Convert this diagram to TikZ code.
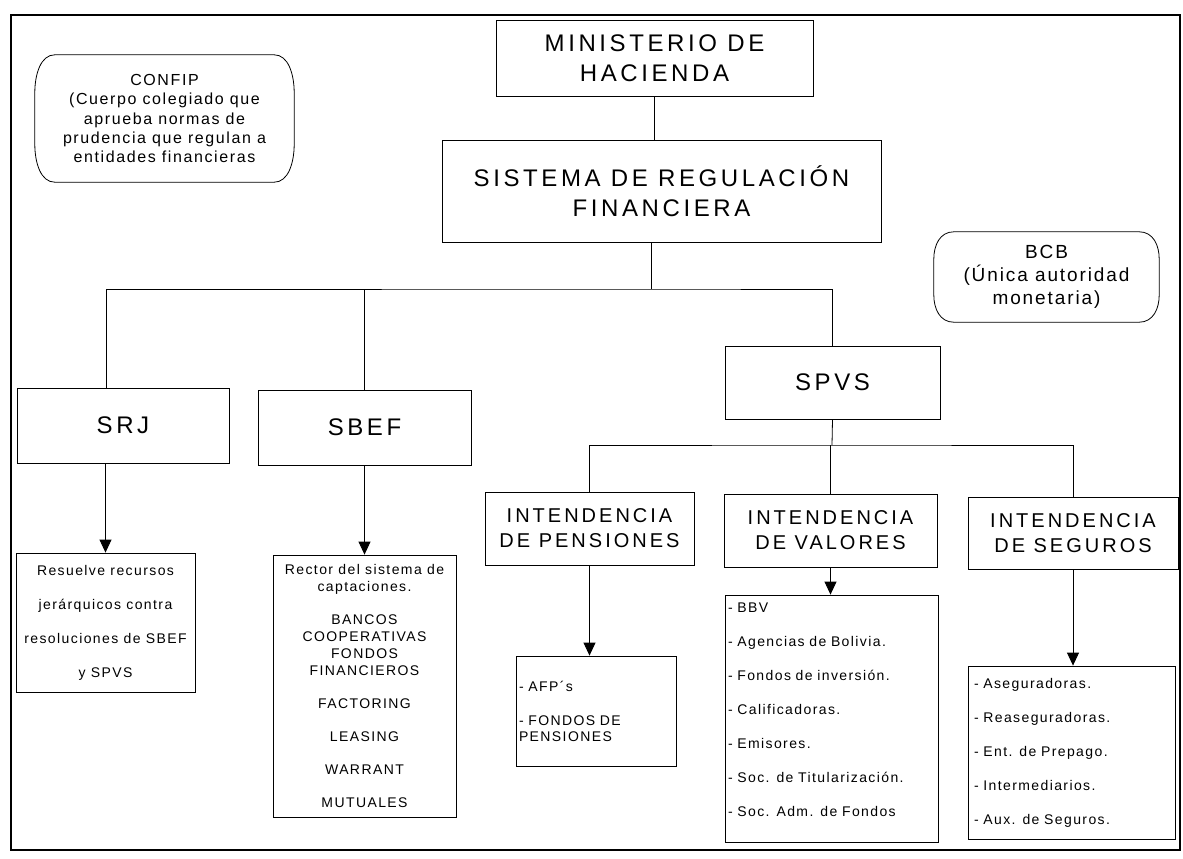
\documentclass[tikz,border=0pt]{standalone}
\usepackage{fontspec}
\setmainfont{Liberation Sans}[LetterSpace=10]
\newfontfamily\widefont{Liberation Sans}[LetterSpace=15]
\usetikzlibrary{arrows.meta,calc}

\begin{document}
\begin{tikzpicture}[x=1pt,y=-1pt,
  box/.style={draw,line width=0.8pt,inner sep=0pt,align=center},
  head/.style={box,font=\widefont\fontsize{24}{30}\selectfont},
  inten/.style={box,font=\widefont\fontsize{20}{25}\selectfont},
  small/.style={box,font=\fontsize{14}{34}\selectfont},
  list/.style={box,align=left,inner xsep=3pt,font=\fontsize{14}{16}\selectfont},
  note/.style={align=center,inner sep=0pt,font=\fontsize{16}{19.3}\selectfont},
  conn/.style={line width=0.8pt},
  arr/.style={conn,-{Triangle[width=12pt,length=13pt]}}]
  \useasboundingbox (0,0) rectangle (1183,859);
  \draw[line width=2pt] (11,15) rectangle (1180,850);

  % top of the tree
  \node[head, minimum width=317pt, minimum height=76pt] (minis) at (654.5,58) {MINISTERIO DE\\HACIENDA};
  \node[head, minimum width=439pt, minimum height=102pt] (sistema) at (661.5,191) {SISTEMA DE REGULACIÓN\\FINANCIERA};
  \node[note, minimum width=259pt, minimum height=127pt] (confip) at (164.5,118.5)
    {CONFIP\\(Cuerpo colegiado que\\aprueba normas de\\prudencia que regulan a\\entidades financieras};
  \node[note, font=\fontsize{19}{23}\selectfont, minimum width=225pt, minimum height=90pt] (bcb) at (1046.5,277)
    {BCB\\(Única autoridad\\monetaria)};

  % superintendencias
  \node[head, minimum width=212pt, minimum height=75pt] (srj) at (123,425.5) {SRJ};
  \node[head, minimum width=213pt, minimum height=75pt] (sbef) at (364.5,427.5) {SBEF};
  \node[head, minimum width=215pt, minimum height=73pt] (spvs) at (832.5,382.5) {SPVS};
  \node[inten, minimum width=209pt, minimum height=73pt] (pens) at (589.5,528.5) {INTENDENCIA\\DE PENSIONES};
  \node[inten, minimum width=213pt, minimum height=73pt] (val) at (830.5,530.5) {INTENDENCIA\\DE VALORES};
  \node[inten, minimum width=210pt, minimum height=72pt] (seg) at (1073,533) {INTENDENCIA\\DE SEGUROS};

  % entidades
  \node[small, minimum width=179pt, minimum height=139pt] (res) at (105.5,622.5)
    {Resuelve recursos\\jerárquicos contra\\resoluciones de SBEF\\y SPVS};
  \node[box, font=\fontsize{14}{17}\selectfont, minimum width=183pt, minimum height=262pt] (rector) at (364.5,686)
    {Rector del sistema de\\captaciones.\\[16pt]BANCOS\\COOPERATIVAS\\FONDOS\\FINANCIEROS\\[16pt]FACTORING\\[16pt]LEASING\\[16pt]WARRANT\\[16pt]MUTUALES};
  \node[list, text width=154pt, minimum height=110pt] (afp) at (596,711) {- AFP´s\\[18pt]- FONDOS DE\\PENSIONES};
  \node[box, minimum width=213pt, minimum height=247pt] (bbv) at (831.5,718.5) {};
  \node[list, draw=none, anchor=north west, text width=200pt] (bbvlist) at ([yshift=-8pt]bbv.north west)
    {- BBV\\[18pt]- Agencias de Bolivia.\\[18pt]- Fondos de inversión.\\[18pt]- Calificadoras.\\[18pt]- Emisores.\\[18pt]- Soc. de Titularización.\\[18pt]- Soc. Adm. de Fondos};
  \node[list, inner xsep=6pt, text width=195pt, minimum height=173pt] (aseg) at (1071.5,752.5)
    {- Aseguradoras.\\[18pt]- Reaseguradoras.\\[18pt]- Ent. de Prepago.\\[18pt]- Intermediarios.\\[18pt]- Aux. de Seguros.};

  % rounded outlines
  \foreach \nd in {confip,bcb}
    \draw[conn] ([xshift=20pt]\nd.north west) -- ([xshift=-20pt]\nd.north east)
      .. controls ([xshift=-6pt]\nd.north east) and ($(\nd.north east)!0.15!(\nd.south east)$) .. ($(\nd.north east)!0.3!(\nd.south east)$)
      -- ($(\nd.north east)!0.7!(\nd.south east)$)
      .. controls ($(\nd.north east)!0.85!(\nd.south east)$) and ([xshift=-6pt]\nd.south east) .. ([xshift=-20pt]\nd.south east)
      -- ([xshift=20pt]\nd.south west)
      .. controls ([xshift=6pt]\nd.south west) and ($(\nd.north west)!0.85!(\nd.south west)$) .. ($(\nd.north west)!0.7!(\nd.south west)$)
      -- ($(\nd.north west)!0.3!(\nd.south west)$)
      .. controls ($(\nd.north west)!0.15!(\nd.south west)$) and ([xshift=6pt]\nd.north west) .. cycle;

  % connectors
  \coordinate (b1) at (651,289);
  \coordinate (b2) at (832,445);
  \draw[conn] (minis.south) -- (minis.south |- sistema.north);
  \draw[conn] (b1 |- sistema.south) -- (b1);
  \draw[conn] ([xshift=-17pt]srj.north) |- (b1) -| (spvs.north);
  \draw[conn] (sbef.north) -- (sbef.north |- b1);
  \draw[conn] (spvs.south) -- (b2);
  \draw[conn] (pens.north) |- (b2) -| (seg.north);
  \draw[conn] (val.north) -- (val.north |- b2);
  \draw[arr] (res.north |- srj.south) -- (res.north);
  \draw[arr] (sbef.south) -- (rector.north);
  \draw[arr] (pens.south) -- (pens.south |- afp.north);
  \draw[arr] (val.south) -- (val.south |- bbv.north);
  \draw[arr] (seg.south) -- (seg.south |- aseg.north);
\end{tikzpicture}
\end{document}
